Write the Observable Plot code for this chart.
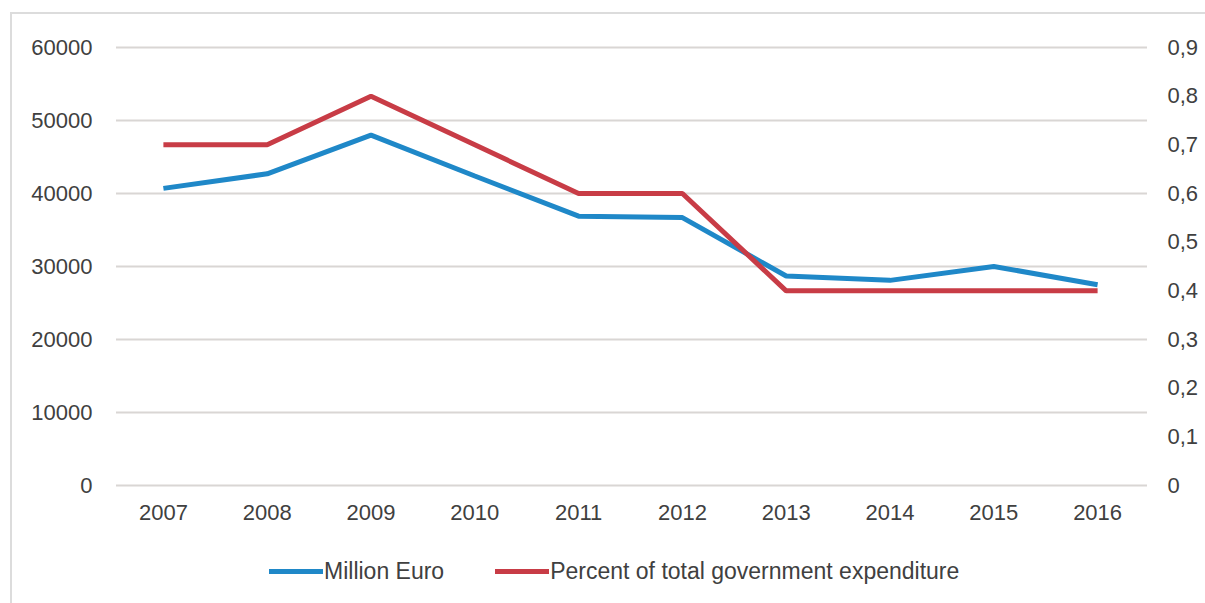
<!DOCTYPE html>
<html>
<head>
<meta charset="utf-8">
<script src="https://cdn.jsdelivr.net/npm/d3@7"></script>
<script src="https://cdn.jsdelivr.net/npm/@observablehq/plot@0.6"></script>
<style>
  html, body { margin: 0; padding: 0; background: #fff; width: 1205px; height: 603px; overflow: hidden; }
  #frame { position: absolute; left: 10px; top: 12px; width: 1205px; height: 600px; border-left: 2px solid #dcdcdc; border-top: 2px solid #dcdcdc; box-sizing: border-box; }
  #chart { position: absolute; left: 0; top: 0; }
  #legend { position: absolute; left: 269px; top: 558px; display: flex; align-items: center; font-family: "Liberation Sans", Arial, sans-serif; font-size: 23px; color: #404040; }
  .item { display: flex; align-items: center; margin-right: 51px; }
  .sw { width: 54px; height: 5px; margin-right: 1px; }
</style>
</head>
<body>
<div id="frame"></div>
<div id="chart"></div>
<div id="legend"></div>
<script>
const years = ["2007","2008","2009","2010","2011","2012","2013","2014","2015","2016"];
const millionEuro = [40700, 42700, 48000, 42400, 36900, 36700, 28700, 28100, 30000, 27500];
const percentExp = [0.7, 0.7, 0.8, 0.7, 0.6, 0.6, 0.4, 0.4, 0.4, 0.4];
const leftTicks = [0, 10000, 20000, 30000, 40000, 50000, 60000];
const rightTicks = [0, 0.1, 0.2, 0.3, 0.4, 0.5, 0.6, 0.7, 0.8, 0.9];
const seriesNames = ["Million Euro", "Percent of total government expenditure"];
const colors = ["#1f88c8", "#c83c46"];

const leftMax = 60000, rightMax = 0.9;
const toLeft = v => v * leftMax / rightMax;

const rows = years.map((y, i) => ({year: y, eur: millionEuro[i], pct: percentExp[i]}));

const fmtRight = d => d === 0 ? "0" : d3.format(".1f")(d).replace(".", ",");

const chart = Plot.plot({
  width: 1205,
  height: 540,
  marginLeft: 111,
  marginRight: 56,
  marginTop: 47,
  marginBottom: 55,
  style: {fontSize: "22px", fontFamily: "Liberation Sans, Arial, sans-serif", color: "#404040", background: "transparent"},
  x: {type: "band", domain: years, padding: 0, round: false, label: null},
  y: {domain: [0, leftMax], label: null},
  marks: [
    Plot.ruleY(leftTicks, {stroke: "#d9d6d4", strokeWidth: 2, insetLeft: 5, insetRight: 2}),
    Plot.axisY(leftTicks, {anchor: "left", tickSize: 0, tickPadding: 19, label: null, tickFormat: d => String(d)}),
    Plot.axisY(rightTicks.map(toLeft), {anchor: "right", tickSize: 0, tickPadding: 18, label: null, tickFormat: d => fmtRight(d * rightMax / leftMax), textAnchor: "start"}),
    Plot.axisX({anchor: "bottom", tickSize: 0, tickPadding: 19, label: null}),
    Plot.line(rows, {x: "year", y: "eur", stroke: colors[0], strokeWidth: 5, strokeLinejoin: "miter", strokeLinecap: "butt"}),
    Plot.line(rows, {x: "year", y: d => toLeft(d.pct), stroke: colors[1], strokeWidth: 5, strokeLinejoin: "miter", strokeLinecap: "butt"})
  ]
});
document.getElementById("chart").appendChild(chart);

const legend = document.getElementById("legend");
seriesNames.forEach((name, i) => {
  const item = document.createElement("div");
  item.className = "item";
  const sw = document.createElement("div");
  sw.className = "sw";
  sw.style.background = colors[i];
  const t = document.createElement("span");
  t.textContent = name;
  item.appendChild(sw);
  item.appendChild(t);
  legend.appendChild(item);
});
</script>
</body>
</html>
